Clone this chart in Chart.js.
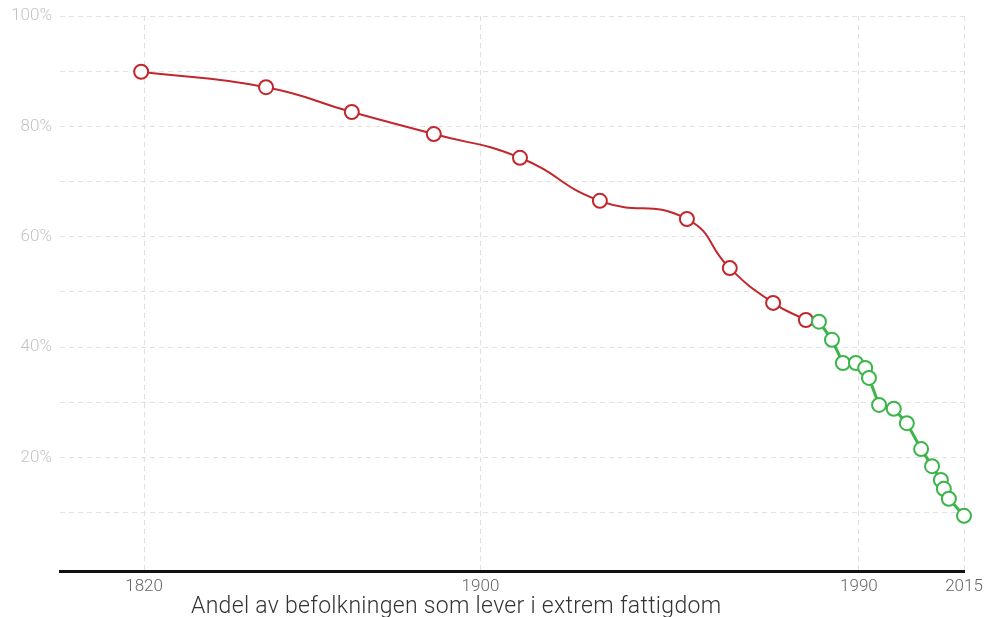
<!DOCTYPE html>
<html>
<head>
<meta charset="utf-8">
<script src="https://cdn.jsdelivr.net/npm/chart.js@4/dist/chart.umd.min.js"></script>
<style>
  html, body { margin: 0; padding: 0; background: #fff; }
  #wrap { width: 984px; height: 617px; position: relative; }
</style>
</head>
<body>
<div id="wrap"><canvas id="c"></canvas></div>
<script>
// ---- data ----
const redYears   = [1819.3, 1849.0, 1869.4, 1888.9, 1909.4, 1928.4, 1949.1, 1959.3, 1969.6, 1977.4];
const redValues  = [89.9, 87.1, 82.6, 78.6, 74.3, 66.5, 63.2, 54.3, 48.0, 44.9];
const greenYears = [1980.5, 1983.6, 1986.2, 1989.3, 1991.5, 1992.4, 1994.8, 1998.3, 2001.4, 2004.8, 2007.4, 2009.5, 2010.2, 2011.4, 2015.0];
const greenValues= [44.6, 41.3, 37.1, 37.1, 36.2, 34.4, 29.5, 28.8, 26.2, 21.5, 18.4, 15.9, 14.3, 12.5, 9.4];
const xTickYears = [1820, 1900, 1990, 2015];
const yTickValues = [10, 20, 30, 40, 50, 60, 70, 80, 90, 100];
const yLabelValues = [20, 40, 60, 80, 100];
const axisTitle = 'Andel av befolkningen som lever i extrem fattigdom';

const FONT = 'Roboto, "Liberation Sans", sans-serif';

const toPts = (xs, ys) => xs.map((x, i) => ({ x: x, y: ys[i] }));

const bottomTitle = {
  id: 'bottomTitle',
  afterDraw(chart) {
    const ctx = chart.ctx;
    ctx.save();
    ctx.font = '300 23px ' + FONT;
    try { ctx.letterSpacing = '0.3px'; } catch (e) {}
    ctx.fillStyle = '#333333';
    ctx.textAlign = 'left';
    ctx.textBaseline = 'alphabetic';
    ctx.fillText(axisTitle, 191, 613);
    ctx.restore();
  }
};

new Chart(document.getElementById('c'), {
  type: 'scatter',
  data: {
    datasets: [
      {
        label: 'green',
        data: toPts(greenYears, greenValues),
        showLine: true,
        clip: false,
        borderColor: '#3bb54a',
        borderWidth: 3,
        tension: 0,
        pointRadius: 7,
        pointBorderWidth: 2,
        pointBackgroundColor: '#ffffff',
        pointBorderColor: '#3bb54a'
      },
      {
        label: 'red',
        data: toPts(redYears, redValues),
        showLine: true,
        clip: false,
        borderColor: '#c1272d',
        borderWidth: 2,
        tension: 0.5,
        pointRadius: 7,
        pointBorderWidth: 2,
        pointBackgroundColor: '#ffffff',
        pointBorderColor: '#c1272d'
      }
    ]
  },
  plugins: [bottomTitle],
  options: {
    responsive: true,
    maintainAspectRatio: false,
    animation: false,
    layout: { padding: { top: 16, right: 20, left: 0, bottom: 0 } },
    plugins: { legend: { display: false }, tooltip: { enabled: false } },
    scales: {
      x: {
        type: 'linear',
        min: 1800,
        max: 2015,
        afterBuildTicks(scale) { scale.ticks = xTickYears.map(v => ({ value: v })); },
        afterFit(scale) {
          scale.height = 46;
          scale.paddingLeft = 0;
          scale.paddingRight = 0;
        },
        ticks: {
          color: '#666666',
          font: { family: FONT, size: 17, weight: '300' },
          padding: 6,
          maxRotation: 0,
          autoSkip: false,
          callback: v => String(v)
        },
        grid: { color: '#e0e0e0', lineWidth: 1, drawTicks: false },
        border: { display: true, color: '#111111', width: 3, dash: [5, 4] }
      },
      y: {
        type: 'linear',
        min: -0.6,
        max: 100,
        afterBuildTicks(scale) { scale.ticks = yTickValues.map(v => ({ value: v })); },
        afterFit(scale) {
          scale.width = 60;
          scale.paddingTop = 0;
          scale.paddingBottom = 0;
        },
        ticks: {
          color: '#c4c4c4',
          font: { family: FONT, size: 17, weight: '300' },
          padding: 8,
          autoSkip: false,
          callback: v => (yLabelValues.includes(v) ? v + '%' : '')
        },
        grid: { color: '#e2e2e2', lineWidth: 1, drawTicks: false },
        border: { display: false, dash: [5, 4] }
      }
    }
  }
});
</script>
</body>
</html>
